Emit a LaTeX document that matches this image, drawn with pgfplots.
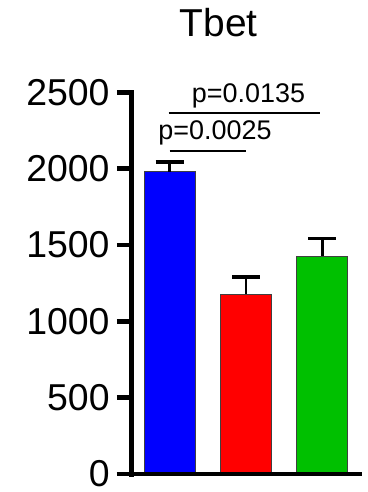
\documentclass[border=0pt]{standalone}
\usepackage{pgfplots}
\pgfplotsset{compat=1.18}
\usepackage{fontspec}
\setmainfont{Liberation Sans}
\definecolor{gpblue}{RGB}{0,0,255}
\definecolor{gpred}{RGB}{255,0,0}
\definecolor{gpgreen}{RGB}{0,192,0}
\begin{document}
\begin{tikzpicture}[x=1pt,y=1pt]
\path[use as bounding box] (0,-1) rectangle (368,492);
\begin{axis}[
  at={(132pt,17pt)}, anchor=south west,
  scale only axis, width=231pt, height=382.5pt,
  xmin=132, xmax=363, ymin=0, ymax=2500,
  clip=false,
  axis line style={draw=none},
  axis x line*=bottom, axis y line*=left,
  xtick=\empty,
  ytick={0,500,1000,1500,2000,2500},
  tick align=outside,
  major tick length=15pt,
  tick style={line width=4.5pt, black},
  /pgf/number format/assume math mode=true,
  /pgf/number format/1000 sep={},
  scaled y ticks=false,
  yticklabel style={font=\fontsize{37.5}{44}\selectfont, inner sep=0pt, xshift=-7pt},
  my err/.style={error bars/.cd, y dir=plus, y explicit,
    error bar style={line width=3pt, black},
    error mark options={rotate=90, line width=3.5pt, mark size=14pt, black}},
]
\addplot[ybar, bar shift=0pt, bar width=51, fill=gpblue, draw=black!75, line width=1.2pt, my err]
  coordinates {(170,1980) +- (0,65)};
\addplot[ybar, bar shift=0pt, bar width=51, fill=gpred, draw=black!75, line width=1.2pt, my err]
  coordinates {(246.5,1176) +- (0,114)};
\addplot[ybar, bar shift=0pt, bar width=51, fill=gpgreen, draw=black!75, line width=1.2pt, my err]
  coordinates {(323,1427) +- (0,115)};
\draw[line width=5pt, line cap=rect] (axis cs:131.5,2500) -- (axis cs:131.5,0);
\draw[line width=4.5pt] (axis cs:117,0) -- (axis cs:363,0);
\end{axis}
\node[font=\fontsize{39}{47}\selectfont, anchor=base] at (219,455) {Tbet};
\draw[line width=2pt] (169,379) -- (321,379);
\draw[line width=2pt] (170,341) -- (246,341);
\node[font=\fontsize{27}{32}\selectfont, anchor=base, inner sep=0pt] at (249,389) {p=0.0135};
\node[font=\fontsize{27}{32}\selectfont, anchor=base, inner sep=0pt] at (215.5,352) {p=0.0025};
\end{tikzpicture}
\end{document}
